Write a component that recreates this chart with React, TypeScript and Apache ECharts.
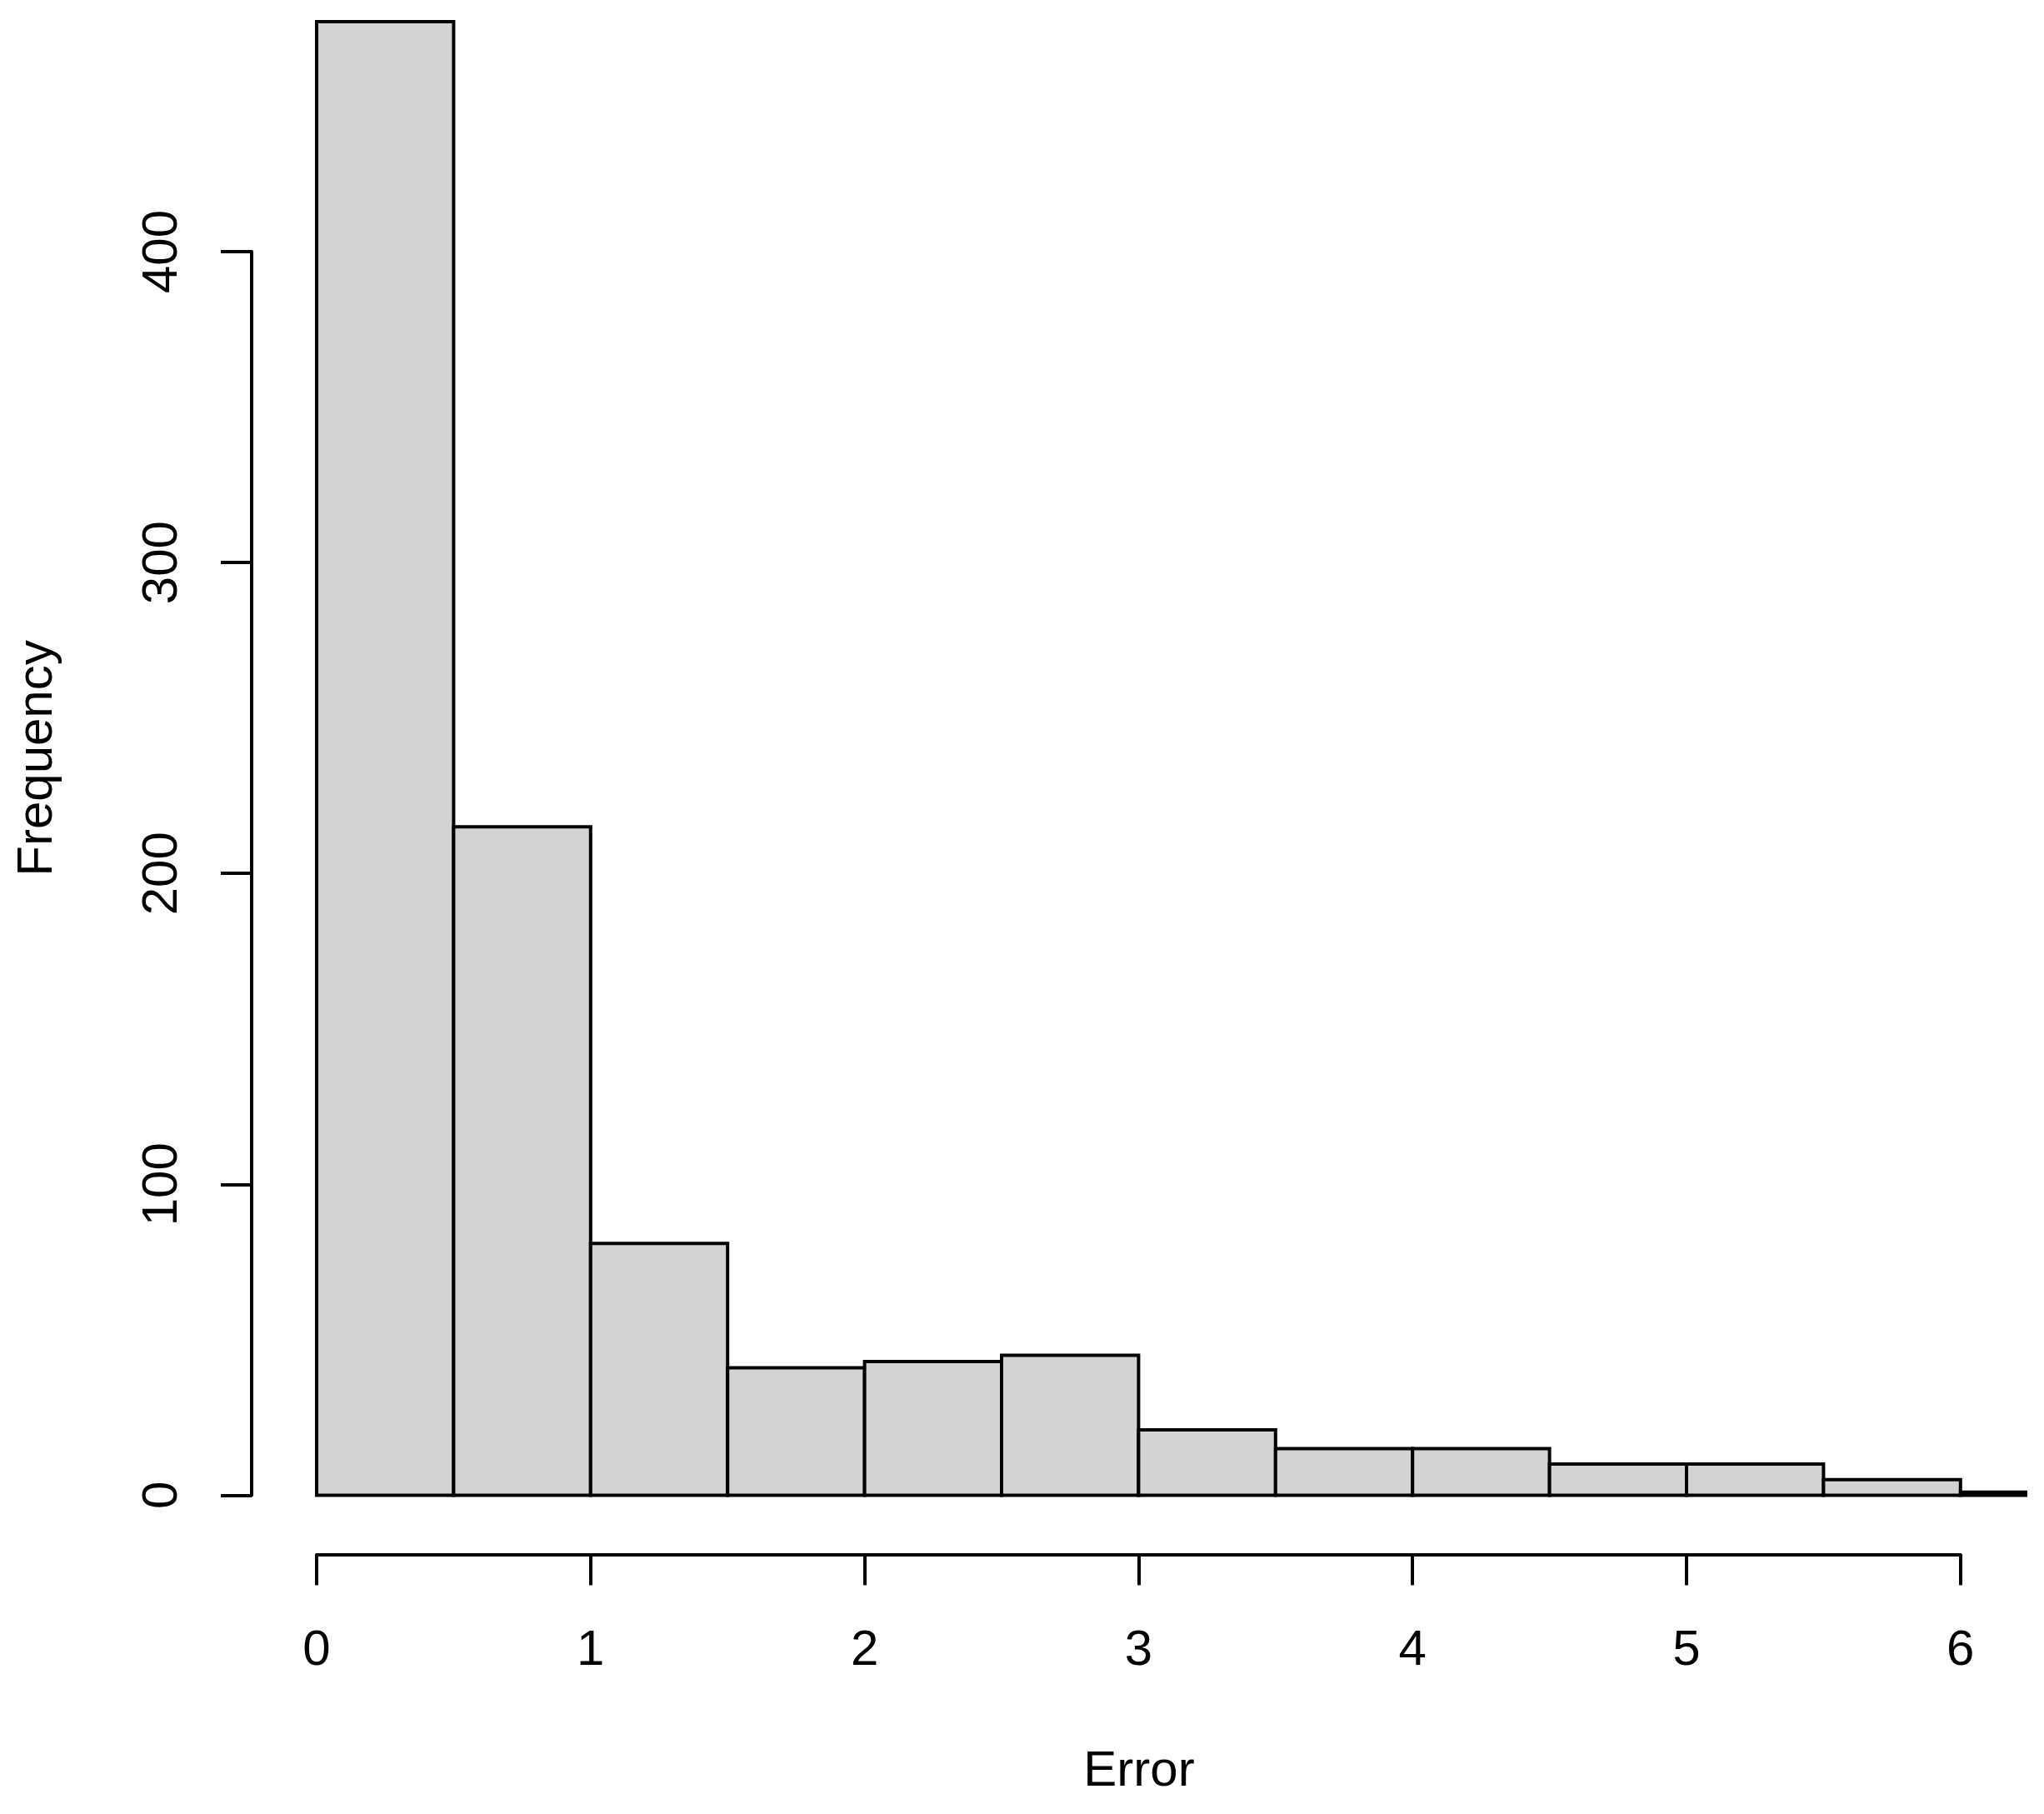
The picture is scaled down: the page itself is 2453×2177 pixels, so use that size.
import React, { useEffect, useRef } from "react";
import * as echarts from "echarts";

const binStarts = [0, 0.5, 1, 1.5, 2, 2.5, 3, 3.5, 4, 4.5, 5, 5.5, 6];
const binEnds = [0.5, 1, 1.5, 2, 2.5, 3, 3.5, 4, 4.5, 5, 5.5, 6, 6.5];
const counts = [474, 215, 81, 41, 43, 45, 21, 15, 15, 10, 10, 5, 1];
const xTicks = [0, 1, 2, 3, 4, 5, 6];
const yTicks = [0, 100, 200, 300, 400];
const xTitle = "Error";
const yTitle = "Frequency";

const FONT = "Liberation Sans";

export default function App() {
  const ref = useRef<HTMLDivElement>(null);
  useEffect(() => {
    if (!ref.current) return;
    const chart = echarts.init(ref.current, null, { renderer: "svg" });
    const data = binStarts.map((s, i) => [s, binEnds[i], counts[i]]);
    // scale: x unit = 328.8 px, y unit = 3.731 px
    const xU = 328.8;
    const yU = 3.731;
    const x0px = 380;
    const y0px = 1794.4;
    const xMin1 = -0.05;
    const xMax1 = 6.2409;
    const yMin1 = -5;
    const yMax1 = 480;
    chart.setOption({
      animation: false,
      backgroundColor: "#ffffff",
      grid: [
        {
          left: x0px + xMin1 * xU,
          top: y0px - yMax1 * yU,
          width: (xMax1 - xMin1) * xU,
          height: (yMax1 - yMin1) * yU,
          containLabel: false,
        },
        {
          left: x0px,
          top: y0px - 400 * yU,
          width: 6 * xU,
          height: 400 * yU,
          containLabel: false,
        },
      ],
      xAxis: [
        { type: "value", gridIndex: 0, min: xMin1, max: xMax1, show: false },
        {
          type: "value",
          gridIndex: 1,
          min: 0,
          max: 6,
          interval: 1,
          offset: 71,
          position: "bottom",
          splitLine: { show: false },
          axisLine: { show: true, onZero: false, lineStyle: { color: "#000", width: 4 } },
          axisTick: { show: true, inside: false, length: 37, lineStyle: { color: "#000", width: 4 } },
          axisLabel: {
            show: true,
            margin: 82,
            fontSize: 60,
            fontFamily: FONT,
            color: "#000",
            formatter: (v: number) => (xTicks.includes(v) ? String(v) : ""),
          },
        },
      ],
      yAxis: [
        { type: "value", gridIndex: 0, min: yMin1, max: yMax1, show: false },
        {
          type: "value",
          gridIndex: 1,
          min: 0,
          max: 400,
          interval: 100,
          offset: 78,
          position: "left",
          splitLine: { show: false },
          axisLine: { show: true, onZero: false, lineStyle: { color: "#000", width: 4 } },
          axisTick: { show: true, inside: false, length: 37, lineStyle: { color: "#000", width: 4 } },
          axisLabel: {
            show: true,
            rotate: 90,
            margin: 81,
            fontSize: 60,
            fontFamily: FONT,
            color: "#000",
            formatter: (v: number) => (yTicks.includes(v) ? String(v) : ""),
          },
        },
      ],
      series: [
        {
          type: "custom",
          xAxisIndex: 0,
          yAxisIndex: 0,
          clip: true,
          encode: { x: [0, 1], y: 2 },
          data,
          renderItem: (params: any, api: any) => {
            const a = api.value(0);
            const b = api.value(1);
            const c = api.value(2);
            const p0 = api.coord([a, c]);
            const p1 = api.coord([b, 0]);
            return {
              type: "rect",
              shape: { x: p0[0], y: p0[1], width: p1[0] - p0[0], height: p1[1] - p0[1] },
              style: { fill: "#d3d3d3", stroke: "#000000", lineWidth: 4 },
            };
          },
        },
      ],
      graphic: [
        {
          type: "text",
          x: 1367,
          y: 2122,
          style: {
            text: xTitle,
            fontSize: 60,
            fontFamily: FONT,
            fill: "#000",
            align: "center",
            verticalAlign: "middle",
            textAlign: "center",
            textVerticalAlign: "middle",
          },
        },
        {
          type: "text",
          x: 41,
          y: 910,
          rotation: Math.PI / 2,
          style: {
            text: yTitle,
            fontSize: 60,
            fontFamily: FONT,
            fill: "#000",
            align: "center",
            verticalAlign: "middle",
            textAlign: "center",
            textVerticalAlign: "middle",
          },
        },
      ],
    });
    return () => chart.dispose();
  }, []);
  return (
    <div
      ref={ref}
      style={{ position: "absolute", left: 0, top: 0, width: 2453, height: 2177, background: "#fff" }}
    />
  );
}
